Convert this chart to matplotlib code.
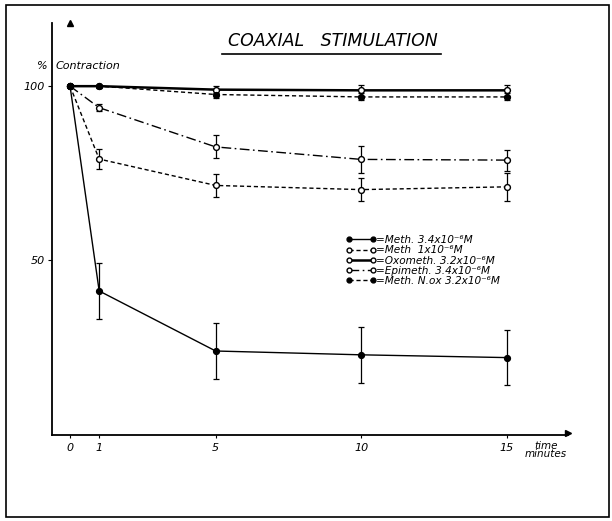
import matplotlib.pyplot as plt
from matplotlib.lines import Line2D
from matplotlib.patches import Rectangle

plt.rcParams['font.family'] = ['DejaVu Sans']

W, H = 612, 521

# time in minutes
t = [0, 1, 5, 10, 15]
x_ticks = [0, 1, 5, 10, 15]
y_ticks = [50, 100]

# % contraction
meth34 = [100, 41, 23.7, 22.6, 21.8]
meth34_err = [0, 8, 8, 8, 8]
meth1 = [100, 79, 71.4, 70.2, 71.0]
meth1_err = [0, 3, 3.3, 3.3, 4]
oxometh = [100, 100, 99.0, 98.8, 98.8]
oxometh_err = [0, 0.4, 1, 1.5, 1.5]
epimeth = [100, 93.8, 82.5, 78.9, 78.7]
epimeth_err = [0, 1, 3.3, 3.8, 3]
methnox = [100, 100, 97.6, 96.9, 96.9]
methnox_err = [0, 0.4, 1, 1, 1]

labels = [
    "=Meth. 3.4x10⁻⁶M",
    "=Meth  1x10⁻⁶M",
    "=Oxometh. 3.2x10⁻⁶M",
    "=Epimeth. 3.4x10⁻⁶M",
    "=Meth. N.ox 3.2x10⁻⁶M",
]


def fx(px):
    return px / W


def fy(py):
    return 1 - py / H


fig = plt.figure(figsize=(W / 100, H / 100), dpi=100)
ax = fig.add_axes([fx(52), fy(435), fx(568) - fx(52), fy(23) - fy(435)])

series = [
    (meth34, meth34_err, '-', 'k', 1.0),
    (meth1, meth1_err, (0, (3, 2)), 'white', 1.0),
    (oxometh, oxometh_err, '-', 'white', 1.8),
    (epimeth, epimeth_err, (0, (7, 2.5, 1.2, 2.5)), 'white', 1.0),
    (methnox, methnox_err, (0, (3, 2)), 'k', 1.0),
]

handles = []
for vals, err, ls, fc, lw in series:
    ax.errorbar(t, vals, yerr=err, fmt='none', ecolor='k', elinewidth=0.9,
                capsize=2, capthick=0.9, zorder=2)
    ax.plot(t, vals, linestyle=ls, color='k', lw=lw, marker='o', ms=4.2,
            mfc=fc, mec='k', mew=1.0, zorder=3)
    handles.append(Line2D([], [], linestyle=ls, color='k', lw=lw, marker='o',
                          ms=3.5, mfc=fc, mec='k', mew=1.0))

ax.set_xlim(-0.62, 17.1)
ax.set_ylim(-0.5, 118.2)

for s in ['top', 'right']:
    ax.spines[s].set_visible(False)
for s in ['left', 'bottom']:
    ax.spines[s].set_linewidth(1.3)

ax.plot(1, 0, '>k', ms=5, transform=ax.get_yaxis_transform(), clip_on=False)
ax.plot(0, 1, '^k', ms=4, transform=ax.get_xaxis_transform(), clip_on=False)

ax.set_xticks(x_ticks)
ax.set_xticklabels([str(v) for v in x_ticks], fontstyle='italic', fontsize=8)
ax.set_yticks(y_ticks)
ax.set_yticklabels([str(v) for v in y_ticks], fontstyle='italic', fontsize=8)
ax.tick_params(axis='x', length=2, width=0.8, pad=4)
ax.tick_params(axis='y', length=3, width=0.8, pad=2)

leg = ax.legend(handles, labels, loc='upper left', bbox_to_anchor=(0.57, 0.485),
                frameon=False, fontsize=7.6, numpoints=2, handlelength=2.8,
                handletextpad=0.05, labelspacing=0.02, borderpad=0,
                borderaxespad=0)
for txt in leg.get_texts():
    txt.set_fontstyle('italic')

# title with underline
fig.text(fx(333), fy(41), "COAXIAL   STIMULATION", ha='center', va='center',
         fontsize=12.5, fontstyle='italic')
fig.add_artist(Line2D([fx(222), fx(441)], [fy(54), fy(54)], color='k', lw=1.2))

fig.text(fx(48), fy(66), "%", ha='right', va='center', fontsize=8,
         fontstyle='italic')
fig.text(fx(56), fy(66), "Contraction", ha='left', va='center', fontsize=8,
         fontstyle='italic')
fig.text(fx(546), fy(450), "time\nminutes", ha='center', va='center',
         fontsize=7.5, fontstyle='italic', linespacing=0.8)

# outer frame
fig.add_artist(Rectangle((fx(6), fy(517)), fx(609) - fx(6), fy(5) - fy(517),
                         fill=False, ec='k', lw=1.2, transform=fig.transFigure))

fig.savefig("out.png", dpi=100)
